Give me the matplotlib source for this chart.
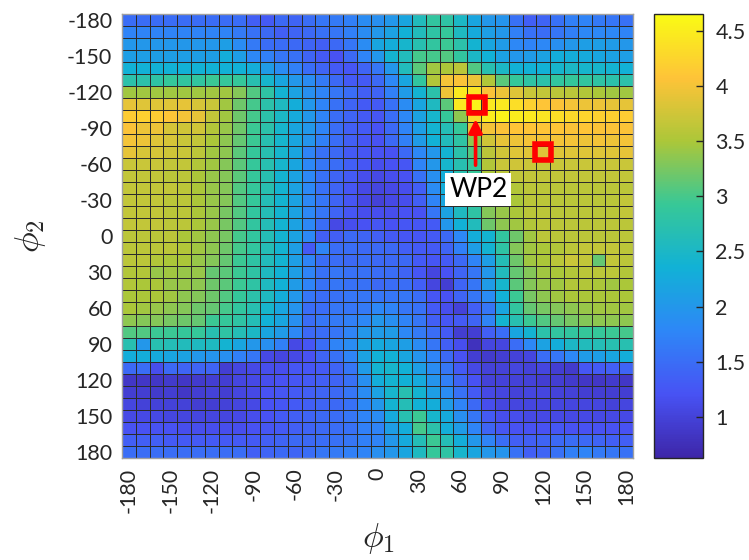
import numpy as np
import matplotlib
matplotlib.use("Agg")
import matplotlib.pyplot as plt
from matplotlib.colors import LinearSegmentedColormap

plt.rcParams['font.family'] = ['Lato', 'DejaVu Sans']
plt.rcParams['mathtext.fontset'] = 'cm'

# ---------------- data ----------------
phi1 = list(range(-180, 181, 10))   # columns (x)
phi2 = list(range(-180, 181, 10))   # rows (y)

row_m180 = [1.5,1.5,1.5,1.5,1.5,1.5,1.5,1.5,1.5,1.35,1.3,1.45,1.4,1.5,1.6,1.65,1.7,1.85, 1.9,2.0,2.2,2.6,2.85,2.8,2.5,2.2,2.0,1.95,1.55,1.35,1.4,1.55,1.7,1.75,1.65,1.6,1.55]
row_m170 = [1.75,1.75,1.75,1.75,1.75,1.75,1.75,1.75,1.65,1.55,1.45,1.35,1.4,1.45,1.55,1.6,1.7,1.85, 2.0,2.15,2.35,2.6,2.8,2.9,2.55,2.25,2.1,2.0,1.7,1.55,1.5,1.6,1.7,1.8,1.8,1.8,1.75]
row_m160 = [2.0,2.0,2.0,2.0,2.0,2.0,2.0,2.1,1.85,1.65,1.5,1.5,1.45,1.4,1.35,1.45,1.6,1.85, 2.2,2.3,2.45,2.7,2.85,2.95,2.75,2.4,2.2,2.05,1.8,1.75,1.8,1.9,2.0,2.1,2.1,2.05,2.0]
row_m150 = [2.1,2.1,2.1,2.1,2.1,2.1,2.1,2.3,2.1,1.8,1.7,1.6,1.55,1.4,1.3,1.2,1.45,1.75, 2.0,2.4,2.6,3.0,3.0,3.05,2.85,2.5,2.35,2.15,2.0,2.05,2.15,2.3,2.3,2.25,2.2,2.15,2.1]
row_m140 = [2.35,2.35,2.35,2.35,2.35,2.35,2.35,2.35,2.35,2.3,2.05,1.85,1.7,1.5,1.4,1.3,1.25,1.4, 1.6,2.0,2.6,3.1,3.45,3.5,3.6,3.05,2.7,2.5,2.35,2.35,2.35,2.45,2.5,2.45,2.45,2.4,2.35]
row_m130 = [2.75,2.75,2.8,2.9,2.85,2.85,2.95,2.9,2.9,2.7,2.45,2.2,2.0,1.85,1.65,1.45,1.3,1.3, 1.45,1.8,2.2,2.85,3.55,4.0,4.05,3.95,3.55,3.1,2.9,2.8,2.75,2.85,2.9,2.85,2.8,2.75,2.75]
row_m120 = [3.45,3.45,3.45,3.45,3.45,3.45,3.45,3.45,3.3,3.05,2.8,2.4,2.15,1.9,1.75,1.6,1.5,1.35, 1.4,1.7,2.05,2.4,2.75,3.95,4.45,4.4,4.05,3.95,3.85,3.7,3.65,3.6,3.6,3.55,3.5,3.45,3.45]
row_m110 = [3.9,3.85,3.85,3.85,3.9,3.8,3.7,3.45,3.2,3.0,2.75,2.55,2.3,2.0,1.75,1.55,1.4,1.3, 1.3,1.55,1.85,2.2,2.55,3.1,4.45,4.55,4.45,4.45,4.35,4.2,4.1,4.05,4.0,3.95,3.95,3.9,3.9]
row_m100 = [4.15,4.2,4.15,4.1,4.0,3.9,3.65,3.45,3.2,3.0,2.75,2.5,2.25,2.0,1.75,1.5,1.4,1.3, 1.25,1.5,1.8,2.15,2.45,2.9,3.35,4.3,4.5,4.55,4.5,4.45,4.4,4.35,4.3,4.25,4.2,4.2,4.15]
row_m90 = [4.05,3.95,3.95,3.8,3.75,3.75,3.55,3.4,3.2,2.95,2.75,2.45,2.2,2.0,1.75,1.5,1.35,1.3, 1.2,1.45,1.75,2.1,2.4,2.65,2.9,3.9,4.0,4.05,4.1,4.1,4.1,4.1,4.05,4.1,4.05,4.05,4.05]
row_m80 = [4.0,3.95,3.85,3.8,3.7,3.65,3.5,3.35,3.15,2.95,2.7,2.45,2.2,1.95,1.7,1.5,1.35,1.25, 1.2,1.45,1.7,2.05,2.35,2.6,2.8,3.35,3.75,3.9,3.95,4.0,4.0,4.0,4.0,3.95,4.0,3.95,4.0]
row_m70 = [3.9,3.8,3.8,3.75,3.7,3.6,3.45,3.35,3.1,2.9,2.7,2.45,2.2, 1.75,1.55,1.45,1.3,1.25,1.2,1.2,1.45,1.8,2.0,2.4, 2.75,3.05,3.6,3.75,3.85,3.85,3.85,3.85,3.85,3.85,3.85,3.85,3.9]
row_m60 = [3.7,3.7,3.7,3.65,3.65,3.55,3.45,3.3,3.1,2.9,2.7,2.45,2.2, 1.8,1.6,1.5,1.35,1.25,1.15,1.2,1.25,1.75,2.0,2.45, 2.7,2.9,3.55,3.7,3.75,3.7,3.7,3.7,3.7,3.7,3.7,3.7,3.7]
row_m50 = [3.65,3.65,3.65,3.6,3.6,3.5,3.4,3.3,3.1,2.9,2.7,2.4,2.15, 1.8,1.55,1.4,1.3,1.15,1.1,1.15,1.2,1.55,1.9,2.3, 2.7,2.9,3.5,3.6,3.65,3.65,3.65,3.65,3.65,3.65,3.65,3.65,3.65]
row_m40 = [3.65,3.65,3.65,3.65,3.6,3.5,3.4,3.3,3.05,2.9,2.7,2.4,2.15, 1.8,1.55,1.4,1.25,1.1,1.05,1.1,1.15,1.35,1.85,2.3, 2.65,2.9,3.4,3.5,3.55,3.6,3.6,3.6,3.6,3.6,3.6,3.6,3.6]
row_m30 = [3.65,3.65,3.65,3.6,3.6,3.5,3.4,3.3,3.05,2.9,2.65,2.4,2.15, 1.8,1.6,1.4,1.25,1.1,1.0,1.1,1.15,1.35,1.75,2.2, 2.6,2.85,3.35,3.45,3.5,3.6,3.6,3.6,3.6,3.6,3.6,3.6,3.65]
row_m20 = [3.65,3.65,3.65,3.6,3.6,3.5,3.4,3.25,3.05,2.85,2.65,2.4,2.15, 1.8,1.6,1.4,1.25,1.15,1.15,1.15,1.2,1.2,1.6,2.15, 2.55,2.8,3.3,3.4,3.5,3.6,3.6,3.6,3.6,3.6,3.6,3.6,3.65]
row_m10 = [3.65,3.65,3.65,3.6,3.6,3.5,3.4,3.25,3.05,2.85,2.65,2.4,2.15, 1.8,1.5,1.1,1.15,1.2,1.25,1.2,1.25,1.25,1.3,2.0, 2.35,2.6,3.2,3.35,3.45,3.55,3.6,3.6,3.6,3.6,3.6,3.6,3.6]
row_0 = [3.6,3.6,3.6,3.6,3.5,3.45,3.35,3.25,3.0,2.85,2.65,2.4,2.15, 1.8,1.35,1.35,1.45,1.4,1.35,1.3,1.25,1.25,1.3,1.45, 1.8,2.3,2.4,2.85,3.2,3.45,3.6,3.6,3.6,3.6,3.6,3.6,3.6]
row_10 = [3.6,3.6,3.6,3.6,3.55,3.45,3.35,3.2,3.0,2.85,2.65,2.4,2.1, 1.3,1.75,1.5,1.5,1.45,1.45,1.45,1.35,1.3,1.3,1.4, 1.7,2.1,2.4,2.8,3.3,3.45,3.5,3.55,3.6,3.65,3.65,3.65,3.6]
row_20 = [3.6,3.6,3.55,3.5,3.5,3.4,3.3,3.15,2.95,2.8,2.6,2.4,2.1, 1.75,1.5,1.5,1.45,1.5,1.45,1.45,1.45,1.3,1.25,1.3, 1.45,1.75,2.1,2.65,3.2,3.45,3.5,3.6,3.7,3.65,3.15,3.65,3.6]
row_30 = [3.55,3.55,3.4,3.45,3.4,3.4,3.15,3.1,2.95,2.8,2.55,2.35,2.1, 1.75,1.55,1.6,1.55,1.55,1.5,1.5,1.4,1.25,1.05,1.2, 1.4,1.6,2.0,2.6,3.15,3.3,3.45,3.5,3.55,3.6,3.6,3.6,3.55]
row_40 = [3.55,3.5,3.5,3.4,3.4,3.35,3.2,3.1,2.95,2.8,2.55,2.35,2.05,1.75,1.55,1.6,1.55,1.55, 1.45,1.5,1.5,1.35,1.05,0.95,1.4,1.6,2.05,2.45,3.1,3.3,3.4,3.45,3.55,3.55,3.5,3.45,3.5]
row_50 = [3.5,3.5,3.5,3.45,3.35,3.3,3.2,3.05,2.9,2.75,2.55,2.3,2.0,1.6,1.5,1.55,1.6,1.6, 1.6,1.6,1.6,1.5,1.25,1.2,1.4,1.6,1.85,2.35,2.95,3.25,3.35,3.45,3.5,3.5,3.5,3.5,3.5]
row_60 = [3.5,3.45,3.4,3.35,3.3,3.2,3.15,3.0,2.85,2.7,2.45,2.2,1.95,1.5,1.5,1.6,1.6,1.65, 1.8,1.75,1.6,1.55,1.3,1.15,1.0,1.35,1.6,2.2,2.85,3.15,3.25,3.3,3.35,3.4,3.45,3.45,3.45]
row_70 = [3.35,3.3,3.3,3.25,3.2,3.15,2.95,2.9,2.8,2.65,2.35,2.2,1.9,1.5,1.6,1.65,1.7,1.8, 2.0,1.9,1.75,1.6,1.35,1.25,1.3,1.4,1.75,2.4,2.7,2.95,3.05,3.15,3.25,3.3,3.35,3.35,3.35]
row_80 = [3.05,3.05,2.95,2.95,2.9,2.9,2.7,2.8,2.65,2.5,2.2,2.05,1.8,1.45,1.5,1.6,1.75,2.0, 2.05,2.05,1.8,1.65,1.5,1.3,0.95,0.95,1.35,1.5,2.2,2.4,2.75,2.85,2.85,2.9,2.9,2.95,3.0]
row_90 = [2.7,2.0,2.7,2.65,2.6,2.55,2.55,2.4,2.2,2.0,1.9,1.7,1.1,1.25,1.5,1.75,1.85,2.15, 2.25,2.2,2.1,1.85,1.6,1.35,1.15,0.8,1.05,1.05,1.5,1.8,2.15,2.3,2.5,2.6,2.65,2.7,2.7]
row_100 = [2.3,2.3,2.25,2.2,2.15,2.0,1.95,1.9,1.7,1.6,1.1,1.05,1.1,1.2,1.4,1.55,1.75,2.15, 2.35,2.35,2.2,1.95,1.75,1.45,1.2,0.95,0.9,0.95,1.0,1.05,1.5,1.6,1.8,2.05,2.1,2.2,2.3]
row_110 = [1.45,1.5,1.15,1.45,1.4,1.4,1.4,0.95,1.05,1.1,1.15,1.15,1.25,1.25,1.3,1.4,1.6,2.05, 2.4,2.45,2.35,2.1,1.85,1.6,1.3,1.1,1.0,1.0,1.05,1.0,1.05,0.95,0.9,1.25,1.3,1.35,1.4]
row_120 = [0.85,0.85,0.85,0.9,0.85,0.9,0.95,0.95,1.05,1.1,1.15,1.2,1.25,1.3,1.35,1.4,1.55,1.9, 2.3,2.4,2.35,2.25,1.95,1.7,1.4,1.2,1.0,1.0,1.0,1.0,0.95,0.95,0.9,0.85,0.85,0.9,0.85]
row_130 = [0.95,0.95,0.9,0.95,0.85,0.95,1.0,0.95,1.05,1.1,1.2,1.25,1.3,1.35,1.4,1.45,1.6,1.85, 2.15,2.45,2.7,2.4,2.1,1.85,1.55,1.3,1.1,1.05,1.0,1.05,1.05,1.0,1.0,0.95,0.95,0.95,0.95]
row_140 = [1.05,1.0,1.0,1.0,1.0,0.95,0.95,1.0,1.05,1.1,1.2,1.25,1.3,1.35,1.4,1.45,1.55,1.8, 2.0,2.4,2.65,2.35,2.3,2.05,1.75,1.45,1.15,1.05,1.05,1.05,1.05,1.05,1.05,1.05,1.05,1.0,1.05]
row_150 = [1.1,1.1,1.1,1.05,1.05,1.05,1.05,1.05,1.1,1.15,1.2,1.3,1.35,1.4,1.45,1.5,1.6,1.75, 1.85,2.25,2.7,2.95,2.45,2.25,1.9,1.6,1.3,1.15,1.15,1.1,1.1,1.1,1.1,1.1,1.1,1.1,1.1]
row_160 = [1.2,1.2,1.2,1.2,1.15,1.15,1.15,1.15,1.15,1.2,1.25,1.3,1.35,1.4,1.45,1.5,1.55,1.7, 1.75,2.1,2.3,3.0,2.75,2.3,2.05,1.75,1.4,1.25,1.2,1.2,1.2,1.25,1.2,1.2,1.2,1.2,1.2]
row_170 = [1.35,1.35,1.35,1.3,1.3,1.3,1.3,1.3,1.3,1.3,1.35,1.4,1.45,1.45,1.5,1.55,1.6,1.7, 1.75,2.0,2.25,2.65,2.95,2.65,2.3,2.0,1.75,1.5,1.35,1.35,1.4,1.45,1.5,1.45,1.4,1.35,1.35]
row_180 = [1.5,1.5,1.5,1.5,1.5,1.5,1.5,1.5,1.5,1.35,1.4,1.45,1.4,1.5,1.6,1.65,1.7,1.75, 1.9,2.0,2.2,2.55,2.9,2.8,2.45,2.2,2.0,1.95,1.55,1.35,1.4,1.55,1.7,1.75,1.65,1.6,1.55]

rows = [row_m180, row_m170, row_m160, row_m150, row_m140, row_m130, row_m120,
        row_m110, row_m100, row_m90, row_m80, row_m70, row_m60, row_m50,
        row_m40, row_m30, row_m20, row_m10, row_0, row_10, row_20, row_30,
        row_40, row_50, row_60, row_70, row_80, row_90, row_100, row_110,
        row_120, row_130, row_140, row_150, row_160, row_170, row_180]

# waypoint markers (phi1, phi2)
wp_x = [72, 120]
wp_y = [-109, -70]
wp_label = "WP2"

xticks = list(range(-180, 181, 30))
yticks = list(range(-180, 181, 30))
cbar_ticks = [1, 1.5, 2, 2.5, 3, 3.5, 4, 4.5]
cbar_labels = ["1", "1.5", "2", "2.5", "3", "3.5", "4", "4.5"]
clim = (0.63, 4.65)

# ---------------- colormap (parula-like) ----------------
parula_pts = [(0.2422, 0.1504, 0.6603), (0.2810, 0.3228, 0.9579),
              (0.1786, 0.5289, 0.9682), (0.0689, 0.6948, 0.8394),
              (0.2161, 0.7843, 0.5923), (0.6720, 0.7793, 0.2227),
              (0.9970, 0.7659, 0.2199), (0.9769, 0.9839, 0.0805)]
cmap = LinearSegmentedColormap.from_list("parula_like", parula_pts, N=256)

Z = np.array(rows)
step = 10
xe = np.arange(phi1[0] - step / 2, phi1[-1] + step, step)
ye = np.arange(phi2[0] - step / 2, phi2[-1] + step, step)

W, H = 749, 560
fig = plt.figure(figsize=(W / 100, H / 100), dpi=100)
ax = fig.add_axes([122 / W, 1 - 458 / H, 511 / W, 444 / H])
cax = fig.add_axes([654 / W, 1 - 458 / H, 49 / W, 444 / H])

mesh = ax.pcolormesh(xe, ye, Z, cmap=cmap, vmin=clim[0], vmax=clim[1],
                     edgecolors='#2b2b2b', linewidth=0.65)
ax.set_xlim(xe[0], xe[-1])
ax.set_ylim(ye[-1], ye[0])
ax.set_xticks(xticks)
ax.set_xticklabels([str(t) for t in xticks], rotation=90)
ax.set_yticks(yticks)
ax.set_yticklabels([str(t) for t in yticks])
ax.tick_params(length=0, labelsize=15.5, pad=7, colors='#262626')
for s in ax.spines.values():
    s.set_color('#a0a0a0')
    s.set_linewidth(1.0)

# markers
ax.plot(wp_x, wp_y, linestyle='none', marker='s', ms=11.5, mfc='none',
        mec='#ff0000', mew=4.0, zorder=5)
ax.annotate('', xy=(wp_x[0] - 1, -97.5), xytext=(wp_x[0] - 1, -59),
            arrowprops=dict(arrowstyle='-|>', color='#ff0000', lw=2.6,
                            mutation_scale=20, shrinkA=0, shrinkB=0),
            zorder=6)
ax.text(73, -38.5, wp_label, ha='center', va='center', fontsize=19,
        color='black', zorder=7,
        bbox=dict(boxstyle='square,pad=0.15', fc='white', ec='none'))

# colorbar
cb = fig.colorbar(mesh, cax=cax, ticks=cbar_ticks)
cb.ax.set_yticklabels(cbar_labels)
cb.ax.tick_params(direction='in', length=5, width=1, labelsize=15.5, pad=9,
                  colors='#262626')
cb.outline.set_edgecolor('#262626')
cb.outline.set_linewidth(1.0)

# axis labels
fig.text(378 / W, 1 - 538 / H, r'$\phi_1$', fontsize=25, ha='center',
         va='center', color='#262626')
fig.text(30 / W, 1 - 236 / H, r'$\phi_2$', fontsize=25, ha='center',
         va='center', rotation=90, color='#262626')

fig.savefig('out.png', dpi=100)
